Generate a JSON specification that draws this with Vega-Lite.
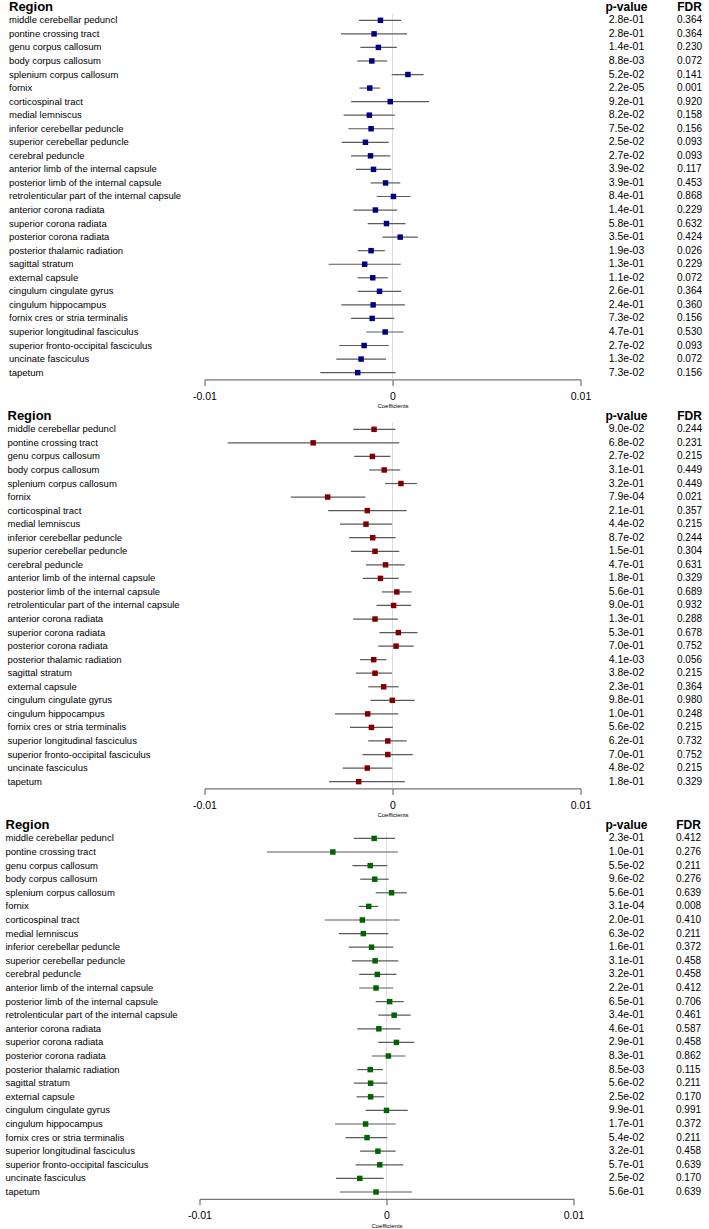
{
"$schema": "https://vega.github.io/schema/vega-lite/v6.json",
"padding": {"left": 4.5, "top": 0, "right": 0, "bottom": 0},
"config": {"font": "Liberation Sans", "view": {"stroke": null}, "axis": {"grid": false}},
"spacing": 0,
"datasets": {
"p1": [
{"r":"middle cerebellar peduncl","b":-0.00064,"lo":-0.00178,"hi":0.00046,"p":"2.8e-01","fdr":"0.364"},
{"r":"pontine crossing tract","b":-0.00098,"lo":-0.00274,"hi":0.00078,"p":"2.8e-01","fdr":"0.364"},
{"r":"genu corpus callosum","b":-0.00075,"lo":-0.00171,"hi":0.00023,"p":"1.4e-01","fdr":"0.230"},
{"r":"body corpus callosum","b":-0.0011,"lo":-0.00187,"hi":-0.00028,"p":"8.8e-03","fdr":"0.072"},
{"r":"splenium corpus callosum","b":0.00082,"lo":-0.00004,"hi":0.00165,"p":"5.2e-02","fdr":"0.141"},
{"r":"fornix","b":-0.00121,"lo":-0.00176,"hi":-0.00066,"p":"2.2e-05","fdr":"0.001"},
{"r":"corticospinal tract","b":-0.00012,"lo":-0.0022,"hi":0.00195,"p":"9.2e-01","fdr":"0.920"},
{"r":"medial lemniscus","b":-0.00123,"lo":-0.0026,"hi":0.00012,"p":"8.2e-02","fdr":"0.158"},
{"r":"inferior cerebellar peduncle","b":-0.00114,"lo":-0.00235,"hi":0.00009,"p":"7.5e-02","fdr":"0.156"},
{"r":"superior cerebellar peduncle","b":-0.00144,"lo":-0.0027,"hi":-0.0002,"p":"2.5e-02","fdr":"0.093"},
{"r":"cerebral peduncle","b":-0.00117,"lo":-0.0022,"hi":-0.00012,"p":"2.7e-02","fdr":"0.093"},
{"r":"anterior limb of the internal capsule","b":-0.00101,"lo":-0.00194,"hi":-0.00007,"p":"3.9e-02","fdr":"0.117"},
{"r":"posterior limb of the internal capsule","b":-0.00037,"lo":-0.00116,"hi":0.00041,"p":"3.9e-01","fdr":"0.453"},
{"r":"retrolenticular part of the internal capsule","b":0.00005,"lo":-0.00084,"hi":0.00096,"p":"8.4e-01","fdr":"0.868"},
{"r":"anterior corona radiata","b":-0.00091,"lo":-0.00208,"hi":0.00025,"p":"1.4e-01","fdr":"0.229"},
{"r":"superior corona radiata","b":-0.00032,"lo":-0.00132,"hi":0.00069,"p":"5.8e-01","fdr":"0.632"},
{"r":"posterior corona radiata","b":0.00041,"lo":-0.00053,"hi":0.00135,"p":"3.5e-01","fdr":"0.424"},
{"r":"posterior thalamic radiation","b":-0.00114,"lo":-0.00185,"hi":-0.00041,"p":"1.9e-03","fdr":"0.026"},
{"r":"sagittal stratum","b":-0.00148,"lo":-0.0034,"hi":0.00044,"p":"1.3e-01","fdr":"0.229"},
{"r":"external capsule","b":-0.00105,"lo":-0.00185,"hi":-0.00025,"p":"1.1e-02","fdr":"0.072"},
{"r":"cingulum cingulate gyrus","b":-0.00069,"lo":-0.00185,"hi":0.00046,"p":"2.6e-01","fdr":"0.364"},
{"r":"cingulum hippocampus","b":-0.00103,"lo":-0.00272,"hi":0.00066,"p":"2.4e-01","fdr":"0.360"},
{"r":"fornix cres or stria terminalis","b":-0.00108,"lo":-0.0022,"hi":0.00009,"p":"7.3e-02","fdr":"0.156"},
{"r":"superior longitudinal fasciculus","b":-0.00039,"lo":-0.00139,"hi":0.00059,"p":"4.7e-01","fdr":"0.530"},
{"r":"superior fronto-occipital fasciculus","b":-0.00151,"lo":-0.00283,"hi":-0.0002,"p":"2.7e-02","fdr":"0.093"},
{"r":"uncinate fasciculus","b":-0.00167,"lo":-0.00299,"hi":-0.00034,"p":"1.3e-02","fdr":"0.072"},
{"r":"tapetum","b":-0.00185,"lo":-0.00384,"hi":0.00016,"p":"7.3e-02","fdr":"0.156"}
],
"p2": [
{"r":"middle cerebellar peduncl","b":-0.00098,"lo":-0.00209,"hi":0.00016,"p":"9.0e-02","fdr":"0.244"},
{"r":"pontine crossing tract","b":-0.00422,"lo":-0.00876,"hi":0.00036,"p":"6.8e-02","fdr":"0.231"},
{"r":"genu corpus callosum","b":-0.00107,"lo":-0.00204,"hi":-0.00011,"p":"2.7e-02","fdr":"0.215"},
{"r":"body corpus callosum","b":-0.00044,"lo":-0.00124,"hi":0.00041,"p":"3.1e-01","fdr":"0.449"},
{"r":"splenium corpus callosum","b":0.00045,"lo":-0.00039,"hi":0.0013,"p":"3.2e-01","fdr":"0.449"},
{"r":"fornix","b":-0.00345,"lo":-0.00541,"hi":-0.00144,"p":"7.9e-04","fdr":"0.021"},
{"r":"corticospinal tract","b":-0.00134,"lo":-0.00342,"hi":0.00075,"p":"2.1e-01","fdr":"0.357"},
{"r":"medial lemniscus","b":-0.00141,"lo":-0.00279,"hi":-0.00003,"p":"4.4e-02","fdr":"0.215"},
{"r":"inferior cerebellar peduncle","b":-0.00105,"lo":-0.00231,"hi":0.00016,"p":"8.7e-02","fdr":"0.244"},
{"r":"superior cerebellar peduncle","b":-0.00093,"lo":-0.00221,"hi":0.00036,"p":"1.5e-01","fdr":"0.304"},
{"r":"cerebral peduncle","b":-0.00037,"lo":-0.00141,"hi":0.00065,"p":"4.7e-01","fdr":"0.631"},
{"r":"anterior limb of the internal capsule","b":-0.00064,"lo":-0.00158,"hi":0.00033,"p":"1.8e-01","fdr":"0.329"},
{"r":"posterior limb of the internal capsule","b":0.00023,"lo":-0.00057,"hi":0.00101,"p":"5.6e-01","fdr":"0.689"},
{"r":"retrolenticular part of the internal capsule","b":0.00006,"lo":-0.00085,"hi":0.00099,"p":"9.0e-01","fdr":"0.932"},
{"r":"anterior corona radiata","b":-0.00093,"lo":-0.00209,"hi":0.00028,"p":"1.3e-01","fdr":"0.288"},
{"r":"superior corona radiata","b":0.00031,"lo":-0.00069,"hi":0.00133,"p":"5.3e-01","fdr":"0.678"},
{"r":"posterior corona radiata","b":0.00019,"lo":-0.00076,"hi":0.00113,"p":"7.0e-01","fdr":"0.752"},
{"r":"posterior thalamic radiation","b":-0.001,"lo":-0.00173,"hi":-0.00032,"p":"4.1e-03","fdr":"0.056"},
{"r":"sagittal stratum","b":-0.00093,"lo":-0.00195,"hi":-0.00003,"p":"3.8e-02","fdr":"0.215"},
{"r":"external capsule","b":-0.00047,"lo":-0.00129,"hi":0.00033,"p":"2.3e-01","fdr":"0.364"},
{"r":"cingulum cingulate gyrus","b":-0.00001,"lo":-0.00117,"hi":0.00118,"p":"9.8e-01","fdr":"0.980"},
{"r":"cingulum hippocampus","b":-0.00132,"lo":-0.00306,"hi":0.00031,"p":"1.0e-01","fdr":"0.248"},
{"r":"fornix cres or stria terminalis","b":-0.00112,"lo":-0.00226,"hi":0.00002,"p":"5.6e-02","fdr":"0.215"},
{"r":"superior longitudinal fasciculus","b":-0.00025,"lo":-0.00129,"hi":0.00075,"p":"6.2e-01","fdr":"0.732"},
{"r":"superior fronto-occipital fasciculus","b":-0.00025,"lo":-0.0016,"hi":0.00108,"p":"7.0e-01","fdr":"0.752"},
{"r":"uncinate fasciculus","b":-0.00134,"lo":-0.00265,"hi":-0.00001,"p":"4.8e-02","fdr":"0.215"},
{"r":"tapetum","b":-0.0018,"lo":-0.00338,"hi":0.00065,"p":"1.8e-01","fdr":"0.329"}
],
"p3": [
{"r":"middle cerebellar peduncl","b":-0.00066,"lo":-0.00175,"hi":0.00046,"p":"2.3e-01","fdr":"0.412"},
{"r":"pontine crossing tract","b":-0.00287,"lo":-0.00639,"hi":0.00061,"p":"1.0e-01","fdr":"0.276"},
{"r":"genu corpus callosum","b":-0.00087,"lo":-0.00182,"hi":0.00005,"p":"5.5e-02","fdr":"0.211"},
{"r":"body corpus callosum","b":-0.00063,"lo":-0.00141,"hi":0.00012,"p":"9.6e-02","fdr":"0.276"},
{"r":"splenium corpus callosum","b":0.00027,"lo":-0.00058,"hi":0.00109,"p":"5.6e-01","fdr":"0.639"},
{"r":"fornix","b":-0.00095,"lo":-0.00148,"hi":-0.00044,"p":"3.1e-04","fdr":"0.008"},
{"r":"corticospinal tract","b":-0.00129,"lo":-0.0033,"hi":0.0007,"p":"2.0e-01","fdr":"0.410"},
{"r":"medial lemniscus","b":-0.00124,"lo":-0.00255,"hi":0.0001,"p":"6.3e-02","fdr":"0.211"},
{"r":"inferior cerebellar peduncle","b":-0.0008,"lo":-0.00202,"hi":0.00036,"p":"1.6e-01","fdr":"0.372"},
{"r":"superior cerebellar peduncle","b":-0.00061,"lo":-0.00185,"hi":0.00063,"p":"3.1e-01","fdr":"0.458"},
{"r":"cerebral peduncle","b":-0.00049,"lo":-0.00146,"hi":0.00053,"p":"3.2e-01","fdr":"0.458"},
{"r":"anterior limb of the internal capsule","b":-0.00056,"lo":-0.00146,"hi":0.00036,"p":"2.2e-01","fdr":"0.412"},
{"r":"posterior limb of the internal capsule","b":0.00017,"lo":-0.00058,"hi":0.00092,"p":"6.5e-01","fdr":"0.706"},
{"r":"retrolenticular part of the internal capsule","b":0.00041,"lo":-0.00044,"hi":0.00129,"p":"3.4e-01","fdr":"0.461"},
{"r":"anterior corona radiata","b":-0.00041,"lo":-0.00156,"hi":0.00075,"p":"4.6e-01","fdr":"0.587"},
{"r":"superior corona radiata","b":0.00053,"lo":-0.00044,"hi":0.00148,"p":"2.9e-01","fdr":"0.458"},
{"r":"posterior corona radiata","b":0.0001,"lo":-0.00078,"hi":0.00102,"p":"8.3e-01","fdr":"0.862"},
{"r":"posterior thalamic radiation","b":-0.00087,"lo":-0.00156,"hi":-0.00019,"p":"8.5e-03","fdr":"0.115"},
{"r":"sagittal stratum","b":-0.00085,"lo":-0.00175,"hi":0.00005,"p":"5.6e-02","fdr":"0.211"},
{"r":"external capsule","b":-0.00085,"lo":-0.0016,"hi":-0.00012,"p":"2.5e-02","fdr":"0.170"},
{"r":"cingulum cingulate gyrus","b":0.0,"lo":-0.00112,"hi":0.00114,"p":"9.9e-01","fdr":"0.991"},
{"r":"cingulum hippocampus","b":-0.00112,"lo":-0.00275,"hi":0.00049,"p":"1.7e-01","fdr":"0.372"},
{"r":"fornix cres or stria terminalis","b":-0.00104,"lo":-0.00219,"hi":0.00005,"p":"5.4e-02","fdr":"0.211"},
{"r":"superior longitudinal fasciculus","b":-0.00046,"lo":-0.00141,"hi":0.00049,"p":"3.2e-01","fdr":"0.458"},
{"r":"superior fronto-occipital fasciculus","b":-0.00036,"lo":-0.00165,"hi":0.0009,"p":"5.7e-01","fdr":"0.639"},
{"r":"uncinate fasciculus","b":-0.00143,"lo":-0.0027,"hi":-0.00015,"p":"2.5e-02","fdr":"0.170"},
{"r":"tapetum","b":-0.00056,"lo":-0.0025,"hi":0.00136,"p":"5.6e-01","fdr":"0.639"}
]
},
"vconcat": [
{"data": {"name": "p1"}, "bounds": "flush", "spacing": 0, "hconcat": [
 {"width": 5, "height": 379, "data": {"values": []}, "mark": "text"},
 {"width": 376, "height": {"step": 13.55},
  "encoding": {"y": {"field": "r", "type": "nominal", "scale": {"type": "band", "paddingInner": 0, "paddingOuter": 0, "domain": ["Region","middle cerebellar peduncl","pontine crossing tract","genu corpus callosum","body corpus callosum","splenium corpus callosum","fornix","corticospinal tract","medial lemniscus","inferior cerebellar peduncle","superior cerebellar peduncle","cerebral peduncle","anterior limb of the internal capsule","posterior limb of the internal capsule","retrolenticular part of the internal capsule","anterior corona radiata","superior corona radiata","posterior corona radiata","posterior thalamic radiation","sagittal stratum","external capsule","cingulum cingulate gyrus","cingulum hippocampus","fornix cres or stria terminalis","superior longitudinal fasciculus","superior fronto-occipital fasciculus","uncinate fasciculus","tapetum"]},
   "axis": {"title": null, "domain": false, "ticks": false, "tickSize": 0, "labelAlign": "left", "labelPadding": 196, "labelLimit": 400, "labelColor": "black", "labelFontSize": {"condition": {"test": "datum.value === 'Region'", "value": 13}, "value": 9.5}, "labelFontWeight": {"condition": {"test": "datum.value === 'Region'", "value": "bold"}, "value": "normal"}}}},
  "layer": [
   {"mark": {"type": "tick", "color": "#d0d0d0", "thickness": 1, "size": 14}, "encoding": {"x": {"datum": 0, "type": "quantitative", "scale": {"domain": [-0.01, 0.01], "nice": false, "zero": false}, "axis": {"values": [-0.01, 0, 0.01], "format": "~g", "labelExpr": "replace(datum.label, '\u2212', '-')", "labelFlush": false, "domainColor": "#555555", "tickColor": "#555555", "tickSize": 6, "labelFontSize": 10.5, "labelColor": "black", "labelPadding": 6, "title": "Coefficients", "titleFontSize": 6, "titleFontWeight": "normal", "titlePadding": 1}}}},
   {"mark": {"type": "rule", "color": "#5a5a5a", "strokeWidth": 1.2}, "encoding": {"x": {"field": "lo", "type": "quantitative"}, "x2": {"field": "hi"}}},
   {"mark": {"type": "square", "size": 30, "filled": true, "opacity": 1, "color": "#000080"}, "encoding": {"x": {"field": "b", "type": "quantitative"}}}
  ]},
 {"width": 92, "height": {"step": 13.55},
  "encoding": {"y": {"field": "r", "type": "nominal", "axis": null, "scale": {"type": "band", "paddingInner": 0, "paddingOuter": 0, "domain": ["Region","middle cerebellar peduncl","pontine crossing tract","genu corpus callosum","body corpus callosum","splenium corpus callosum","fornix","corticospinal tract","medial lemniscus","inferior cerebellar peduncle","superior cerebellar peduncle","cerebral peduncle","anterior limb of the internal capsule","posterior limb of the internal capsule","retrolenticular part of the internal capsule","anterior corona radiata","superior corona radiata","posterior corona radiata","posterior thalamic radiation","sagittal stratum","external capsule","cingulum cingulate gyrus","cingulum hippocampus","fornix cres or stria terminalis","superior longitudinal fasciculus","superior fronto-occipital fasciculus","uncinate fasciculus","tapetum"]}}},
  "layer": [
   {"mark": {"type": "text", "fontSize": 10.5, "color": "black"}, "encoding": {"text": {"field": "p"}}},
   {"data": {"values": [{"r": "Region", "t": "p-value"}]}, "mark": {"type": "text", "fontSize": 12, "fontWeight": "bold", "color": "black"}, "encoding": {"text": {"field": "t"}}}
  ]},
 {"width": 34, "height": {"step": 13.55},
  "encoding": {"y": {"field": "r", "type": "nominal", "axis": null, "scale": {"type": "band", "paddingInner": 0, "paddingOuter": 0, "domain": ["Region","middle cerebellar peduncl","pontine crossing tract","genu corpus callosum","body corpus callosum","splenium corpus callosum","fornix","corticospinal tract","medial lemniscus","inferior cerebellar peduncle","superior cerebellar peduncle","cerebral peduncle","anterior limb of the internal capsule","posterior limb of the internal capsule","retrolenticular part of the internal capsule","anterior corona radiata","superior corona radiata","posterior corona radiata","posterior thalamic radiation","sagittal stratum","external capsule","cingulum cingulate gyrus","cingulum hippocampus","fornix cres or stria terminalis","superior longitudinal fasciculus","superior fronto-occipital fasciculus","uncinate fasciculus","tapetum"]}}},
  "layer": [
   {"mark": {"type": "text", "fontSize": 10, "color": "black"}, "encoding": {"text": {"field": "fdr"}}},
   {"data": {"values": [{"r": "Region", "t": "FDR"}]}, "mark": {"type": "text", "fontSize": 12, "fontWeight": "bold", "color": "black"}, "encoding": {"text": {"field": "t"}}}
  ]}
]},
{"data": {"name": "p2"}, "bounds": "flush", "spacing": 0, "hconcat": [
 {"width": 4.5, "height": 379, "data": {"values": []}, "mark": "text"},
 {"width": 376, "height": {"step": 13.55},
  "encoding": {"y": {"field": "r", "type": "nominal", "scale": {"type": "band", "paddingInner": 0, "paddingOuter": 0, "domain": ["Region","middle cerebellar peduncl","pontine crossing tract","genu corpus callosum","body corpus callosum","splenium corpus callosum","fornix","corticospinal tract","medial lemniscus","inferior cerebellar peduncle","superior cerebellar peduncle","cerebral peduncle","anterior limb of the internal capsule","posterior limb of the internal capsule","retrolenticular part of the internal capsule","anterior corona radiata","superior corona radiata","posterior corona radiata","posterior thalamic radiation","sagittal stratum","external capsule","cingulum cingulate gyrus","cingulum hippocampus","fornix cres or stria terminalis","superior longitudinal fasciculus","superior fronto-occipital fasciculus","uncinate fasciculus","tapetum"]},
   "axis": {"title": null, "domain": false, "ticks": false, "tickSize": 0, "labelAlign": "left", "labelPadding": 197.5, "labelLimit": 400, "labelColor": "black", "labelFontSize": {"condition": {"test": "datum.value === 'Region'", "value": 13}, "value": 9.5}, "labelFontWeight": {"condition": {"test": "datum.value === 'Region'", "value": "bold"}, "value": "normal"}}}},
  "layer": [
   {"mark": {"type": "tick", "color": "#d0d0d0", "thickness": 1, "size": 14}, "encoding": {"x": {"datum": 0, "type": "quantitative", "scale": {"domain": [-0.01, 0.01], "nice": false, "zero": false}, "axis": {"values": [-0.01, 0, 0.01], "format": "~g", "labelExpr": "replace(datum.label, '\u2212', '-')", "labelFlush": false, "domainColor": "#555555", "tickColor": "#555555", "tickSize": 6, "labelFontSize": 10.5, "labelColor": "black", "labelPadding": 6, "title": "Coefficients", "titleFontSize": 6, "titleFontWeight": "normal", "titlePadding": 1}}}},
   {"mark": {"type": "rule", "color": "#5a5a5a", "strokeWidth": 1.2}, "encoding": {"x": {"field": "lo", "type": "quantitative"}, "x2": {"field": "hi"}}},
   {"mark": {"type": "square", "size": 30, "filled": true, "opacity": 1, "color": "#800000"}, "encoding": {"x": {"field": "b", "type": "quantitative"}}}
  ]},
 {"width": 92, "height": {"step": 13.55},
  "encoding": {"y": {"field": "r", "type": "nominal", "axis": null, "scale": {"type": "band", "paddingInner": 0, "paddingOuter": 0, "domain": ["Region","middle cerebellar peduncl","pontine crossing tract","genu corpus callosum","body corpus callosum","splenium corpus callosum","fornix","corticospinal tract","medial lemniscus","inferior cerebellar peduncle","superior cerebellar peduncle","cerebral peduncle","anterior limb of the internal capsule","posterior limb of the internal capsule","retrolenticular part of the internal capsule","anterior corona radiata","superior corona radiata","posterior corona radiata","posterior thalamic radiation","sagittal stratum","external capsule","cingulum cingulate gyrus","cingulum hippocampus","fornix cres or stria terminalis","superior longitudinal fasciculus","superior fronto-occipital fasciculus","uncinate fasciculus","tapetum"]}}},
  "layer": [
   {"mark": {"type": "text", "fontSize": 10.5, "color": "black"}, "encoding": {"text": {"field": "p"}}},
   {"data": {"values": [{"r": "Region", "t": "p-value"}]}, "mark": {"type": "text", "fontSize": 12, "fontWeight": "bold", "color": "black"}, "encoding": {"text": {"field": "t"}}}
  ]},
 {"width": 34, "height": {"step": 13.55},
  "encoding": {"y": {"field": "r", "type": "nominal", "axis": null, "scale": {"type": "band", "paddingInner": 0, "paddingOuter": 0, "domain": ["Region","middle cerebellar peduncl","pontine crossing tract","genu corpus callosum","body corpus callosum","splenium corpus callosum","fornix","corticospinal tract","medial lemniscus","inferior cerebellar peduncle","superior cerebellar peduncle","cerebral peduncle","anterior limb of the internal capsule","posterior limb of the internal capsule","retrolenticular part of the internal capsule","anterior corona radiata","superior corona radiata","posterior corona radiata","posterior thalamic radiation","sagittal stratum","external capsule","cingulum cingulate gyrus","cingulum hippocampus","fornix cres or stria terminalis","superior longitudinal fasciculus","superior fronto-occipital fasciculus","uncinate fasciculus","tapetum"]}}},
  "layer": [
   {"mark": {"type": "text", "fontSize": 10, "color": "black"}, "encoding": {"text": {"field": "fdr"}}},
   {"data": {"values": [{"r": "Region", "t": "FDR"}]}, "mark": {"type": "text", "fontSize": 12, "fontWeight": "bold", "color": "black"}, "encoding": {"text": {"field": "t"}}}
  ]}
]},
{"data": {"name": "p3"}, "bounds": "flush", "spacing": 0, "hconcat": [
 {"width": 374, "height": {"step": 13.6},
  "encoding": {"y": {"field": "r", "type": "nominal", "scale": {"type": "band", "paddingInner": 0, "paddingOuter": 0, "domain": ["Region","middle cerebellar peduncl","pontine crossing tract","genu corpus callosum","body corpus callosum","splenium corpus callosum","fornix","corticospinal tract","medial lemniscus","inferior cerebellar peduncle","superior cerebellar peduncle","cerebral peduncle","anterior limb of the internal capsule","posterior limb of the internal capsule","retrolenticular part of the internal capsule","anterior corona radiata","superior corona radiata","posterior corona radiata","posterior thalamic radiation","sagittal stratum","external capsule","cingulum cingulate gyrus","cingulum hippocampus","fornix cres or stria terminalis","superior longitudinal fasciculus","superior fronto-occipital fasciculus","uncinate fasciculus","tapetum"]},
   "axis": {"title": null, "domain": false, "ticks": false, "tickSize": 0, "labelAlign": "left", "labelPadding": 194.5, "labelLimit": 400, "labelColor": "black", "labelFontSize": {"condition": {"test": "datum.value === 'Region'", "value": 13}, "value": 9.5}, "labelFontWeight": {"condition": {"test": "datum.value === 'Region'", "value": "bold"}, "value": "normal"}}}},
  "layer": [
   {"mark": {"type": "tick", "color": "#d0d0d0", "thickness": 1, "size": 14}, "encoding": {"x": {"datum": 0, "type": "quantitative", "scale": {"domain": [-0.01, 0.01], "nice": false, "zero": false}, "axis": {"values": [-0.01, 0, 0.01], "format": "~g", "labelExpr": "replace(datum.label, '\u2212', '-')", "labelFlush": false, "domainColor": "#555555", "tickColor": "#555555", "tickSize": 6, "labelFontSize": 10.5, "labelColor": "black", "labelPadding": 6, "title": "Coefficients", "titleFontSize": 6, "titleFontWeight": "normal", "titlePadding": 1}}}},
   {"mark": {"type": "rule", "color": "#5a5a5a", "strokeWidth": 1.2}, "encoding": {"x": {"field": "lo", "type": "quantitative"}, "x2": {"field": "hi"}}},
   {"mark": {"type": "square", "size": 30, "filled": true, "opacity": 1, "color": "#006400"}, "encoding": {"x": {"field": "b", "type": "quantitative"}}}
  ]},
 {"width": 106, "height": {"step": 13.6},
  "encoding": {"y": {"field": "r", "type": "nominal", "axis": null, "scale": {"type": "band", "paddingInner": 0, "paddingOuter": 0, "domain": ["Region","middle cerebellar peduncl","pontine crossing tract","genu corpus callosum","body corpus callosum","splenium corpus callosum","fornix","corticospinal tract","medial lemniscus","inferior cerebellar peduncle","superior cerebellar peduncle","cerebral peduncle","anterior limb of the internal capsule","posterior limb of the internal capsule","retrolenticular part of the internal capsule","anterior corona radiata","superior corona radiata","posterior corona radiata","posterior thalamic radiation","sagittal stratum","external capsule","cingulum cingulate gyrus","cingulum hippocampus","fornix cres or stria terminalis","superior longitudinal fasciculus","superior fronto-occipital fasciculus","uncinate fasciculus","tapetum"]}}},
  "layer": [
   {"mark": {"type": "text", "fontSize": 10.5, "color": "black"}, "encoding": {"text": {"field": "p"}}},
   {"data": {"values": [{"r": "Region", "t": "p-value"}]}, "mark": {"type": "text", "fontSize": 12, "fontWeight": "bold", "color": "black"}, "encoding": {"text": {"field": "t"}}}
  ]},
 {"width": 18, "height": {"step": 13.6},
  "encoding": {"y": {"field": "r", "type": "nominal", "axis": null, "scale": {"type": "band", "paddingInner": 0, "paddingOuter": 0, "domain": ["Region","middle cerebellar peduncl","pontine crossing tract","genu corpus callosum","body corpus callosum","splenium corpus callosum","fornix","corticospinal tract","medial lemniscus","inferior cerebellar peduncle","superior cerebellar peduncle","cerebral peduncle","anterior limb of the internal capsule","posterior limb of the internal capsule","retrolenticular part of the internal capsule","anterior corona radiata","superior corona radiata","posterior corona radiata","posterior thalamic radiation","sagittal stratum","external capsule","cingulum cingulate gyrus","cingulum hippocampus","fornix cres or stria terminalis","superior longitudinal fasciculus","superior fronto-occipital fasciculus","uncinate fasciculus","tapetum"]}}},
  "layer": [
   {"mark": {"type": "text", "fontSize": 10, "color": "black"}, "encoding": {"text": {"field": "fdr"}}},
   {"data": {"values": [{"r": "Region", "t": "FDR"}]}, "mark": {"type": "text", "fontSize": 12, "fontWeight": "bold", "color": "black"}, "encoding": {"text": {"field": "t"}}}
  ]}
]}
]
}
